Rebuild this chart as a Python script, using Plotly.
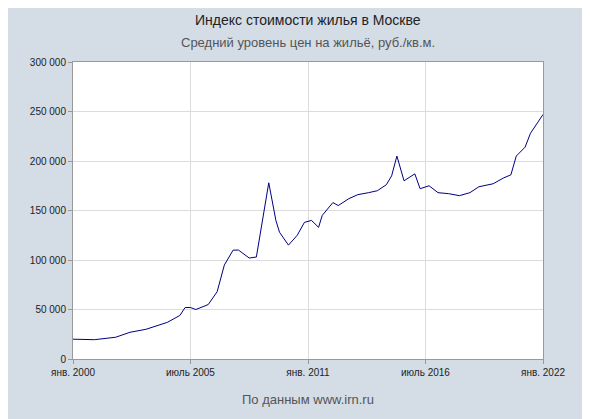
import plotly.graph_objects as go

dates = ["2000-01-01","2001-01-01","2002-01-01","2002-09-01","2003-06-01","2004-01-01","2004-06-01","2005-01-01","2005-04-01","2005-07-01",
"2005-10-01","2006-05-01","2006-10-01","2007-02-01","2007-07-01","2007-10-01","2008-04-01","2008-08-01","2008-10-01","2009-01-01",
"2009-03-01","2009-07-01","2009-09-01","2010-02-01","2010-07-01","2010-11-01","2011-03-01","2011-07-01","2011-09-01","2012-03-01",
"2012-06-01","2012-12-01","2013-05-01","2013-11-01","2014-04-01","2014-09-01","2014-12-01","2015-03-01","2015-07-01","2016-01-01",
"2016-04-01","2016-09-01","2017-02-01","2017-08-01","2018-02-01","2018-08-01","2019-01-01","2019-09-01","2020-03-01","2020-07-01",
"2020-10-01","2021-03-01","2021-06-01","2022-01-01"]
values = [20000,19500,22000,27000,30000,34000,37000,44000,52000,52000,
50000,55000,68000,95000,110000,110000,102000,103000,125000,160000,
178000,140000,128000,115000,125000,138000,140000,133000,145000,158000,
155000,162000,166000,168000,170000,176000,185000,205000,180000,187000,
172000,175000,168000,167000,165000,168000,174000,177000,183000,186000,
205000,214000,228000,247000]

tickvals = ["2000-01-01","2005-07-01","2011-01-01","2016-07-01","2022-01-01"]
ticktext = ["янв. 2000","июль 2005","янв. 2011","июль 2016","янв. 2022"]
yticks = [0,50000,100000,150000,200000,250000,300000]
ytext = ["0","50 000","100 000","150 000","200 000","250 000","300 000"]

fig = go.Figure(go.Scatter(x=dates, y=values, mode="lines", line=dict(color="#000080", width=1)))
fig.update_layout(
    width=590, height=419, paper_bgcolor="#d4dce6", plot_bgcolor="white",
    margin=dict(l=65, r=55, t=54, b=68), showlegend=False,
    font=dict(family="Liberation Sans, Arial", size=10, color="#222"),
)
fig.add_annotation(text="Индекс стоимости жилья в Москве", xref="paper", yref="paper", x=0.5, y=1.141, showarrow=False, font=dict(size=14, color="#222"), xanchor="center", yanchor="middle")
fig.add_annotation(text="Средний уровень цен на жильё, руб./кв.м.", xref="paper", yref="paper", x=0.5, y=1.067, showarrow=False, font=dict(size=13, color="#555"), xanchor="center", yanchor="middle")
fig.add_annotation(text="По данным www.irn.ru", xref="paper", yref="paper", x=0.5, y=-0.138, showarrow=False, font=dict(size=13, color="#555"), xanchor="center", yanchor="middle")
fig.update_xaxes(range=["2000-01-01","2022-01-01"], tickvals=tickvals, ticktext=ticktext, showgrid=True, gridcolor="#dcdcdc",
                 showline=True, linecolor="#999", mirror=True, ticks="outside", ticklen=4, tickcolor="#999", tickfont=dict(size=10))
fig.update_yaxes(range=[0,300000], tickvals=yticks, ticktext=ytext, showgrid=True, gridcolor="#dcdcdc",
                 showline=True, linecolor="#999", mirror=True, ticks="outside", ticklen=4, tickcolor="#999", tickfont=dict(size=10), zeroline=False)
fig.write_html("out.html")
